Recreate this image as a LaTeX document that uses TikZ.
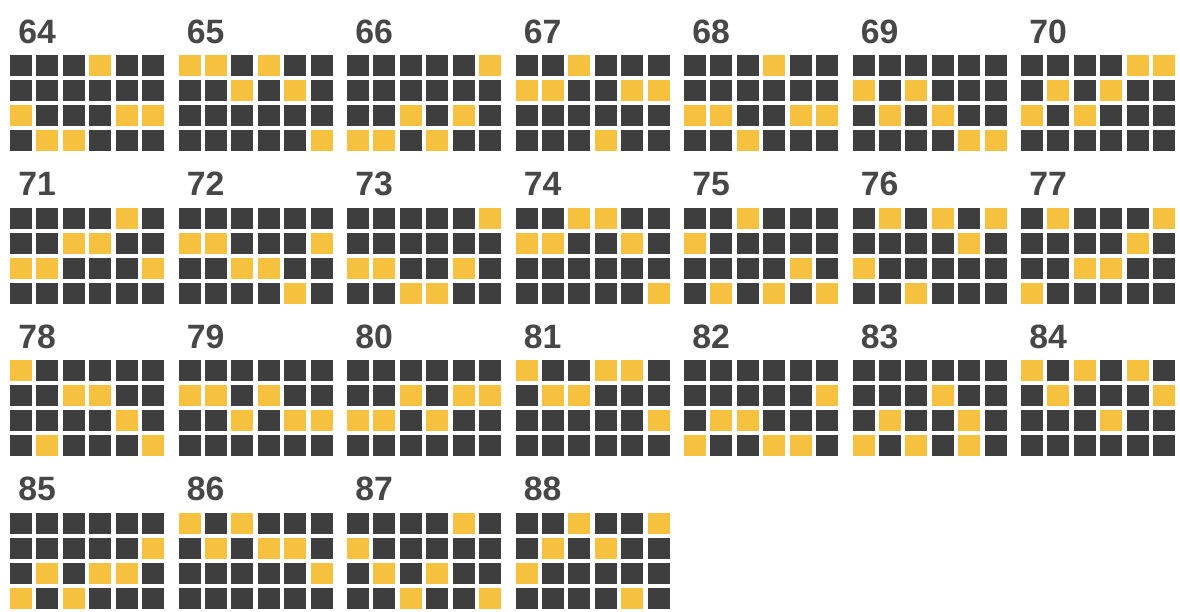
\documentclass[tikz,border=0pt]{standalone}
\usepackage{fontspec}
\setmainfont{Liberation Sans}
\usepackage{tikz}
\usetikzlibrary{positioning}
\definecolor{CellDark}{HTML}{3E3E3E}
\definecolor{CellGold}{HTML}{F5C13E}
\definecolor{NumGray}{HTML}{474747}
\tikzset{
  celda/.style  = {fill=CellDark},
  celdaon/.style= {fill=CellGold},
  numero/.style = {font=\fontsize{24}{24}\selectfont\bfseries, text=NumGray,
                   inner sep=0pt, anchor=base west},
}
\begin{document}
\begin{tikzpicture}[x=0.025cm, y=-0.025cm]
  \useasboundingbox (0,0) rectangle (1180,612);
  % patrones: fila/columna de las celdas amarillas
  \foreach \n/\on [count=\k from 0] in {
    64/{1/4,3/1,3/5,3/6,4/2,4/3}, 65/{1/1,1/2,1/4,2/3,2/5,4/6},
    66/{1/6,3/3,3/5,4/1,4/2,4/4}, 67/{1/3,2/1,2/2,2/5,2/6,4/4},
    68/{1/4,3/1,3/2,3/5,3/6,4/3}, 69/{2/1,2/3,3/2,3/4,4/5,4/6},
    70/{1/5,1/6,2/2,2/4,3/1,3/3}, 71/{1/5,2/3,2/4,3/1,3/2,3/6},
    72/{2/1,2/2,2/6,3/3,3/4,4/5}, 73/{1/6,3/1,3/2,3/5,4/3,4/4},
    74/{1/3,1/4,2/1,2/2,2/5,4/6}, 75/{1/3,2/1,3/5,4/2,4/4,4/6},
    76/{1/2,1/4,1/6,2/5,3/1,4/3}, 77/{1/2,1/6,2/5,3/3,3/4,4/1},
    78/{1/1,2/3,2/4,3/5,4/2,4/6}, 79/{2/1,2/2,2/4,3/3,3/5,3/6},
    80/{2/3,2/5,2/6,3/1,3/2,3/4}, 81/{1/1,1/4,1/5,2/2,2/3,3/6},
    82/{2/6,3/2,3/3,4/1,4/4,4/5}, 83/{2/4,3/2,3/5,4/1,4/3,4/5},
    84/{1/1,1/3,1/5,2/2,2/6,3/4}, 85/{2/6,3/2,3/4,3/5,4/1,4/3},
    86/{1/1,1/3,2/2,2/4,2/5,3/6}, 87/{1/5,2/1,3/2,3/4,4/3,4/6},
    88/{1/3,1/6,2/2,2/4,3/1,4/5}} {
    \pgfmathsetmacro\gx{10+168.5*mod(\k,7)}
    \pgfmathsetmacro\gy{55+152.5*int(\k/7)}
    \coordinate (g\n) at (\gx,\gy);
    \node[numero] (n\n) at ([shift={(8,-12)}]g\n) {\n};
    \begin{scope}[shift={(g\n)}]
      \foreach \r in {1,...,4}
        \foreach \c in {1,...,6}
          \fill[celda] ({(\c-1)*26.4},{(\r-1)*25}) rectangle ++(22,21);
      \foreach \r/\c in \on
        \fill[celdaon] ({(\c-1)*26.4},{(\r-1)*25}) rectangle ++(22,21);
    \end{scope}
  }
\end{tikzpicture}
\end{document}
